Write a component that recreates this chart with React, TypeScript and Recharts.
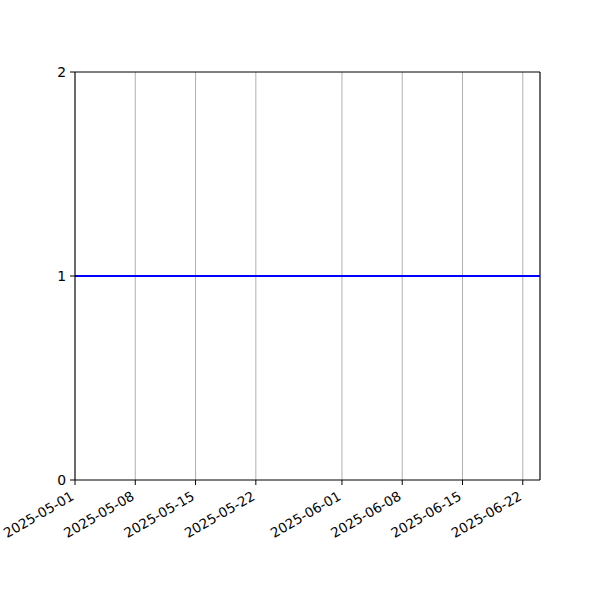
import React from "react";
import {
  CartesianGrid,
  LineChart,
  Line,
  ReferenceLine,
  XAxis,
  YAxis,
} from "recharts";

// series: one point per date, all at 1
const dates = ["2025-05-01", "2025-05-15", "2025-06-01", "2025-06-15", "2025-06-24"];
const values = [1, 1, 1, 1, 1];

const tickDates = [
  "2025-05-01",
  "2025-05-08",
  "2025-05-15",
  "2025-05-22",
  "2025-06-01",
  "2025-06-08",
  "2025-06-15",
  "2025-06-22",
];
const yTicks = [0, 1, 2];
const xStart = "2025-05-01";
const xEnd = "2025-06-24";

const DAY = 86400000;
const toDay = (s: string) => {
  const [y, m, d] = s.split("-").map(Number);
  return (Date.UTC(y, m - 1, d) - Date.UTC(2025, 4, 1)) / DAY;
};
const fromDay = (n: number) => {
  const dt = new Date(Date.UTC(2025, 4, 1) + n * DAY);
  return dt.toISOString().slice(0, 10);
};

const data = dates.map((d, i) => ({ t: toDay(d), v: values[i] }));
const FONT = "'DejaVu Sans', sans-serif";

function DateTick(props: any) {
  const { x, y, payload } = props;
  return (
    <text
      transform={`translate(${x},${y + 9}) rotate(-30)`}
      textAnchor="end"
      fontSize={13.5}
      fontFamily={FONT}
      fill="#000"
    >
      {fromDay(payload.value)}
    </text>
  );
}

export default function App() {
  const x0 = toDay(xStart);
  const x1 = toDay(xEnd);
  return (
    <div style={{ position: "absolute", left: 0, top: 0, width: 600, height: 600, background: "#fff" }}>
      <LineChart
        width={600}
        height={600}
        data={data}
        margin={{ top: 72, right: 60, bottom: 60, left: 35 }}
      >
        <CartesianGrid horizontal={false} stroke="#b0b0b0" strokeWidth={1} />
        <XAxis
          dataKey="t"
          type="number"
          domain={[x0, x1]}
          ticks={tickDates.map(toDay)}
          allowDataOverflow
          height={60}
          tickSize={5}
          tickMargin={5}
          axisLine={{ stroke: "#000", strokeWidth: 1 }}
          tickLine={{ stroke: "#000", strokeWidth: 1 }}
          tick={<DateTick />}
          interval={0}
        />
        <YAxis
          type="number"
          domain={[0, 2]}
          ticks={yTicks}
          width={40}
          tickSize={5}
          tickMargin={4}
          axisLine={{ stroke: "#000", strokeWidth: 1 }}
          tickLine={{ stroke: "#000", strokeWidth: 1 }}
          tick={{ fill: "#000", fontSize: 13.9, fontFamily: FONT }}
          interval={0}
        />
        <ReferenceLine y={2} stroke="#000" strokeWidth={1} />
        <ReferenceLine x={x1} stroke="#000" strokeWidth={1} />
        <Line
          dataKey="v"
          stroke="#0000ff"
          strokeWidth={2}
          dot={false}
          isAnimationActive={false}
        />
      </LineChart>
    </div>
  );
}
